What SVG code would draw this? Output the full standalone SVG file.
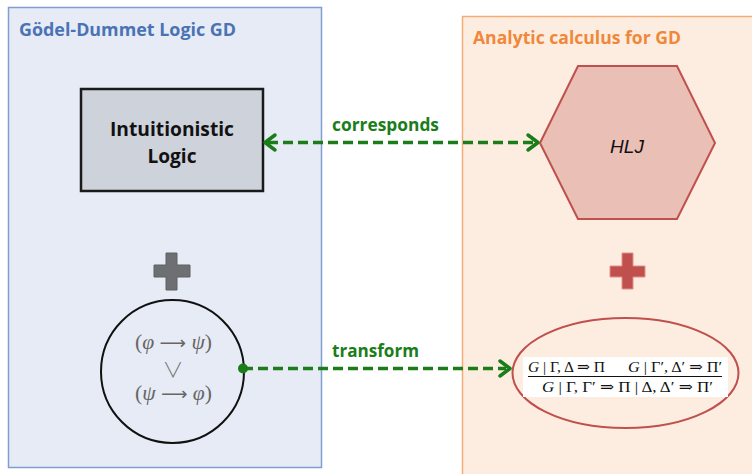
<svg xmlns="http://www.w3.org/2000/svg" width="752" height="474" viewBox="0 0 752 474">
<defs>
<style>
.title{font-family:"Open Sans","Liberation Sans",sans-serif;font-weight:bold;font-size:17px}
.lbl{font-family:"Open Sans","Liberation Sans",sans-serif;font-weight:bold;font-size:17px;fill:#1a7d1a}
.box{font-family:"Open Sans","Liberation Sans",sans-serif;font-weight:bold;font-size:19px;fill:#111}
.math{font-family:"Liberation Serif","DejaVu Serif",serif;fill:#666;font-size:21px}
.arr{font-family:"DejaVu Sans",sans-serif;font-size:18px}
.rule{font-family:"Liberation Serif","DejaVu Serif",serif;fill:#111;font-size:15px}
.conn{stroke:#1a7d1a;stroke-width:3.5;stroke-dasharray:10 5;fill:none}
.head{stroke:#1a7d1a;stroke-width:3.5;fill:none;stroke-linecap:round;stroke-linejoin:round}
</style>
</defs>
<rect width="752" height="474" fill="#fff"/>
<g id="panel-left">
<rect x="8.5" y="7.5" width="313" height="460" fill="#e6ebf5" stroke="#7f9fd0" stroke-width="1.5"/>
<text class="title" x="19" y="36" fill="#4a73b5" textLength="217" lengthAdjust="spacingAndGlyphs">Gödel-Dummet Logic GD</text>
</g>
<g id="panel-right">
<rect x="462.5" y="16.5" width="300" height="470" fill="#fdede1" stroke="#f5ac74" stroke-width="1.5"/>
<text class="title" x="473" y="44" fill="#f0873a" textLength="208" lengthAdjust="spacingAndGlyphs">Analytic calculus for GD</text>
</g>
<g id="intuitionistic">
<rect x="81" y="89" width="182" height="102" fill="#cdd2db" stroke="#1a1a1a" stroke-width="2.5"/>
<text class="box" x="172" y="136" text-anchor="middle" textLength="124" lengthAdjust="spacingAndGlyphs">Intuitionistic</text>
<text class="box" x="172" y="163" text-anchor="middle" textLength="49" lengthAdjust="spacingAndGlyphs">Logic</text>
</g>
<g id="hlj">
<polygon points="540,143 578,66 677,66 715,143 677,219 578,219" fill="#e9bfb6" stroke="#c0504d" stroke-width="2"/>
<text x="627" y="153" text-anchor="middle" font-family="Liberation Sans, Arial, sans-serif" font-style="italic" font-size="19" fill="#111">HLJ</text>
</g>
<g id="plus-gray">
<path d="M166,253 H177 V265 H190 V277 H177 V290 H166 V277 H154 V265 H166 Z" fill="#6d6f73" stroke="#5e6064" stroke-width="1"/>
</g>
<g id="plus-red">
<path d="M622,253 H633 V266 H645 V277 H633 V289 H622 V277 H610 V266 H622 Z" fill="#c0504d" stroke="#e0908c" stroke-width="1"/>
</g>
<g id="gd-axiom">
<circle cx="172.5" cy="371.5" r="71.5" fill="none" stroke="#111" stroke-width="2"/>
<text class="math" x="135" y="349" textLength="77" lengthAdjust="spacingAndGlyphs">(<tspan font-style="italic">φ</tspan> <tspan class="arr">⟶</tspan> <tspan font-style="italic">ψ</tspan>)</text>
<text x="173" y="377" text-anchor="middle" font-family="Noto Sans CJK SC, DejaVu Sans, sans-serif" font-size="21" font-weight="300" fill="#777">∨</text>
<text class="math" x="135" y="400" textLength="77" lengthAdjust="spacingAndGlyphs">(<tspan font-style="italic">ψ</tspan> <tspan class="arr">⟶</tspan> <tspan font-style="italic">φ</tspan>)</text>
</g>
<g id="rule">
<ellipse cx="625.5" cy="373" rx="113" ry="55" fill="none" stroke="#c0504d" stroke-width="2"/>
<rect x="523" y="357" width="205" height="40" fill="#fff"/>
<text class="rule" x="528" y="372" textLength="77" lengthAdjust="spacingAndGlyphs"><tspan font-style="italic">G</tspan> | Γ, Δ ⇒ Π</text>
<text class="rule" x="628" y="372" textLength="94" lengthAdjust="spacingAndGlyphs"><tspan font-style="italic">G</tspan> | Γ′, Δ′ ⇒ Π′</text>
<line x1="528" y1="376.5" x2="722" y2="376.5" stroke="#111" stroke-width="1"/>
<text class="rule" x="542" y="392" textLength="171" lengthAdjust="spacingAndGlyphs"><tspan font-style="italic">G</tspan> | Γ, Γ′ ⇒ Π | Δ, Δ′ ⇒ Π′</text>
</g>
<g id="connectors">
<line class="conn" x1="268" y1="142.5" x2="534" y2="142.5"/>
<polyline class="head" points="275,135 265,142.5 275,150"/>
<polyline class="head" points="528,135 538,142.5 528,150"/>
<text class="lbl" x="332" y="131" textLength="107" lengthAdjust="spacingAndGlyphs">corresponds</text>
<line class="conn" x1="243" y1="368.5" x2="506" y2="368.5"/>
<polyline class="head" points="500,361 510,368.5 500,376"/>
<circle cx="243" cy="368.5" r="5" fill="#1a7d1a"/>
<text class="lbl" x="332" y="357" textLength="87" lengthAdjust="spacingAndGlyphs">transform</text>
</g>
</svg>
